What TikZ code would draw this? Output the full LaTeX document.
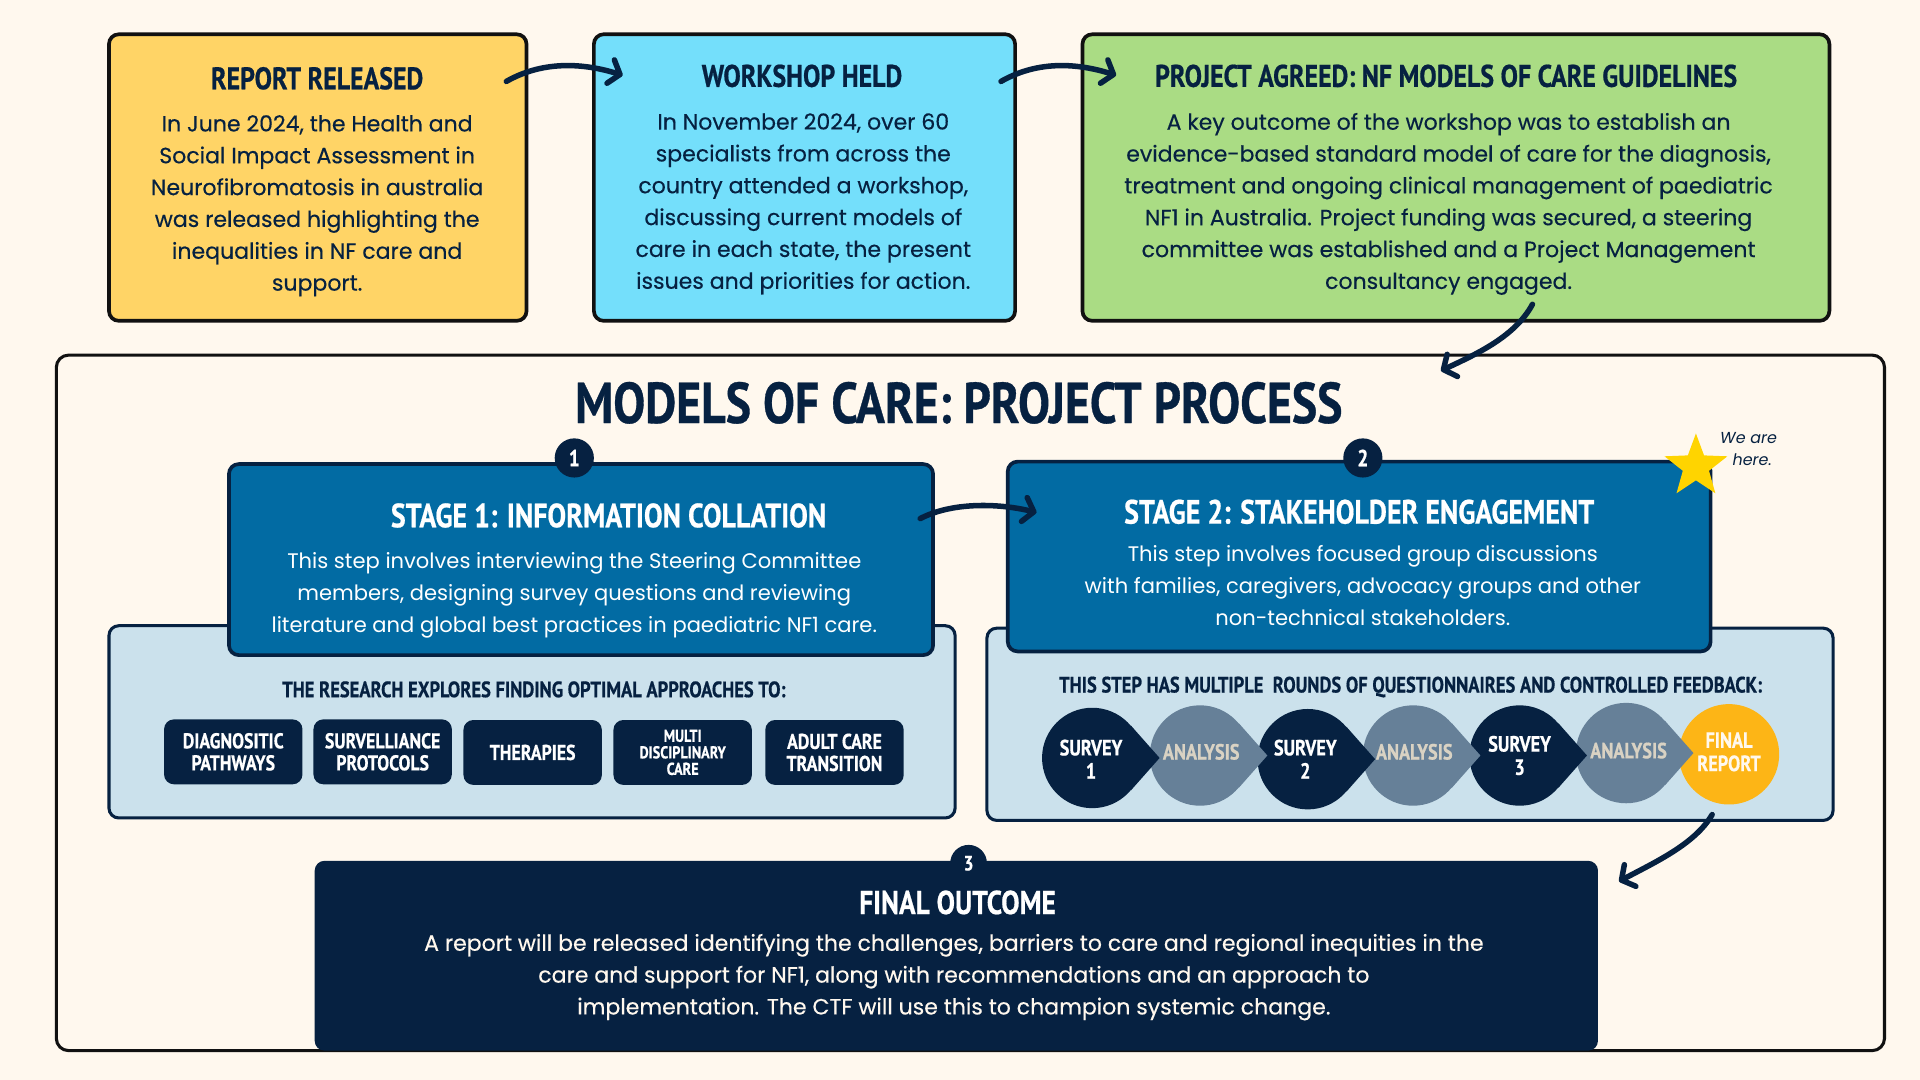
\documentclass[tikz,border=0pt]{standalone}
\usepackage{fontspec}
\setmainfont{Poppins}
\newfontfamily\hf[FakeStretch=0.83, BoldFeatures={FakeBold=0.6}]{PT Sans}
\newfontfamily\bodyf[FakeBold=0.35]{Poppins}
\usetikzlibrary{arrows.meta,shapes.geometric,calc}
\definecolor{bg}{RGB}{255,248,238}
\definecolor{navy}{RGB}{6,33,65}
\definecolor{boxline}{RGB}{17,17,17}
\definecolor{yel}{RGB}{255,212,102}
\definecolor{cya}{RGB}{116,223,251}
\definecolor{gre}{RGB}{170,220,132}
\definecolor{stblue}{RGB}{2,107,163}
\definecolor{ltblue}{RGB}{203,225,236}
\definecolor{anal}{RGB}{102,128,152}
\definecolor{analtxt}{RGB}{217,210,195}
\definecolor{orng}{RGB}{253,181,22}
\definecolor{stary}{RGB}{255,212,0}
\definecolor{cream}{RGB}{255,248,238}
\tikzset{
  topbox/.style={draw=boxline, line width=3pt, rounded corners=8pt, inner sep=0pt},
  stbox/.style={draw=navy, line width=3pt, fill=stblue, rounded corners=8pt, inner sep=0pt},
  ltbox/.style={draw=navy, line width=2.5pt, fill=ltblue, rounded corners=8pt, inner sep=0pt},
  head/.style={font=\hf\bfseries\fontsize{25.5}{28}\selectfont, text=navy, inner sep=0pt},
  sthead/.style={font=\hf\bfseries\fontsize{27.5}{30}\selectfont, text=white, inner sep=0pt},
  body/.style={font=\bodyf\fontsize{18}{26}\selectfont, text=navy, align=center, inner sep=0pt},
  stbody/.style={font=\fontsize{17.2}{26}\selectfont, text=white, align=center, inner sep=0pt},
  subhead/.style={font=\hf\bfseries\fontsize{18.2}{20}\selectfont, text=navy, inner sep=0pt},
  pill/.style={fill=navy, rounded corners=8pt, minimum width=113pt, minimum height=53pt, inner sep=0pt,
     text=white, align=center, font=\hf\bfseries\fontsize{17.5}{18}\selectfont},
  numc/.style={circle, fill=navy, minimum size=32pt, inner sep=0pt, text=white, font=\hf\bfseries\fontsize{19}{20}\selectfont},
  drop/.style={circle, minimum size=82pt, inner sep=0pt},
  droptxt/.style={align=center, inner sep=0pt, font=\hf\bfseries\fontsize{18}{19}\selectfont},
  conn/.style={draw=navy, line width=4.5pt, line cap=round, -{Straight Barb[length=8pt,width=20pt,round]}},
}
\newcommand\droptip[2]{\fill[#2] (#1.40) -- ($(#1.center)+(55,0)$) -- (#1.-40) -- cycle;}
\begin{document}
\begin{tikzpicture}[x=1pt,y=-1pt]
\fill[bg] (0,0) rectangle (1568,882);
\useasboundingbox (0,0) rectangle (1568,882);

% top boxes
\node[topbox, fill=yel, minimum width=341pt, minimum height=234pt] (rep) at (259.5,145) {};
\node[topbox, fill=cya, minimum width=344pt, minimum height=234pt] (work) at (657,145) {};
\node[topbox, fill=gre, minimum width=610pt, minimum height=234pt] (proj) at (1189,145) {};

\node[head] (repH) at (259,64) {REPORT RELEASED};
\node[head] (workH) at (655,62) {WORKSHOP HELD};
\node[head] (projH) at (1181,62) {PROJECT AGREED: NF MODELS OF CARE GUIDELINES};

\node[body] (repT) at (259,168) {In June 2024, the Health and\\Social Impact Assessment in\\Neurofibromatosis in australia\\was released highlighting the\\inequalities in NF care and\\support.};
\node[body] (workT) at (656,166.5) {In November 2024, over 60\\specialists from across the\\country attended a workshop,\\discussing current models of\\care in each state, the present\\issues and priorities for action.};
\node[body] (projT) at (1183,166.5) {A key outcome of the workshop was to establish an\\evidence-based standard model of care for the diagnosis,\\treatment and ongoing clinical management of paediatric\\NF1 in Australia. Project funding was secured, a steering\\committee was established and a Project Management\\consultancy engaged.};

% container
\node[draw=boxline, line width=2.5pt, fill=bg, rounded corners=10pt, minimum width=1493pt, minimum height=568pt, inner sep=0pt] (cont) at (792.5,574) {};
\node[font=\hf\bfseries\fontsize{47}{50}\selectfont, text=navy, inner sep=0pt] (title) at (783,329) {MODELS OF CARE: PROJECT PROCESS};

% stage 1
\node[ltbox, minimum width=691pt, minimum height=157pt] (s1l) at (434.5,589.5) {};
\node[stbox, minimum width=575pt, minimum height=156pt] (s1) at (474.5,457) {};
\node[numc] (n1) at (469,374) {1};
\node[sthead] (s1H) at (497,421) {STAGE 1: INFORMATION COLLATION};
\node[stbody] (s1T) at (469,486) {This step involves interviewing the Steering Committee\\members, designing survey questions and reviewing\\literature and global best practices in paediatric NF1 care.};
\node[subhead] (s1S) at (436,563) {THE RESEARCH EXPLORES FINDING OPTIMAL APPROACHES TO:};
\node[pill] (p1) at (190.5,614) {DIAGNOSITIC\\PATHWAYS};
\node[pill] (p2) at (312.5,614) {SURVELLIANCE\\PROTOCOLS};
\node[pill] (p3) at (435,614.5) {THERAPIES};
\node[pill, font=\hf\bfseries\fontsize{14}{13.5}\selectfont] (p4) at (557.5,614.5) {MULTI\\DISCIPLINARY\\CARE};
\node[pill] (p5) at (681.5,614.5) {ADULT CARE\\TRANSITION};

% stage 2
\node[ltbox, minimum width=691pt, minimum height=157pt] (s2l) at (1151.5,591.5) {};
\node[stbox, minimum width=574pt, minimum height=155pt] (s2) at (1110,454.5) {};
\node[numc] (n2) at (1113,374) {2};
\node[sthead] (s2H) at (1110,418) {STAGE 2: STAKEHOLDER ENGAGEMENT};
\node[stbody] (s2T) at (1113,478) {This step involves focused group discussions\\with families, caregivers, advocacy groups and other\\non-technical stakeholders.};
\node[star, star points=5, star point ratio=2.4, fill=stary, minimum size=54pt, inner sep=0pt] (star) at (1385,381) {};
\node[font=\itshape\fontsize{13}{18}\selectfont, text=navy, align=center, inner sep=0pt] (here) at (1428,367) {We are\\\hspace*{6pt}here.};
\node[subhead] (s2S) at (1152,561) {THIS STEP HAS MULTIPLE\ \ ROUNDS OF QUESTIONNAIRES AND CONTROLLED FEEDBACK:};

% drops (right to left, shapes first)
\node[drop, fill=orng] (fr) at (1412,616) {};
\node[drop, fill=anal] (a3) at (1328,615) {};
\droptip{a3}{anal}
\node[drop, fill=navy] (v3) at (1241,617) {};
\droptip{v3}{navy}
\node[drop, fill=anal] (a2) at (1154,617) {};
\droptip{a2}{anal}
\node[drop, fill=navy] (v2) at (1068,620) {};
\droptip{v2}{navy}
\node[drop, fill=anal] (a1) at (980,617) {};
\droptip{a1}{anal}
\node[drop, fill=navy] (v1) at (892,619) {};
\droptip{v1}{navy}
% drop labels
\node[droptxt, text=cream] (frt) at (1412,614) {FINAL\\REPORT};
\node[droptxt, text=analtxt] (a3t) at (1330,613) {ANALYSIS};
\node[droptxt, text=white] (v3t) at (1241,617) {SURVEY\\3};
\node[droptxt, text=analtxt] (a2t) at (1155,614) {ANALYSIS};
\node[droptxt, text=white] (v2t) at (1066,620) {SURVEY\\2};
\node[droptxt, text=analtxt] (a1t) at (981,614) {ANALYSIS};
\node[droptxt, text=white] (v1t) at (891,620) {SURVEY\\1};

% final outcome
\node[fill=navy, rounded corners=8pt, minimum width=1048pt, minimum height=155pt, inner sep=0pt] (fin) at (781,780.5) {};
\node[numc, minimum size=30pt, font=\hf\bfseries\fontsize{17}{18}\selectfont] (n3) at (791,705) {3};
\node[sthead, font=\hf\bfseries\fontsize{27}{28}\selectfont] (finH) at (782,737) {FINAL OUTCOME};
\node[body, text=cream] (finT) at (779,798) {A report will be released identifying the challenges, barriers to care and regional inequities in the\\care and support for NF1, along with recommendations and an approach to\\implementation. The CTF will use this to champion systemic change.};

% connectors
\coordinate (c1a) at ($(rep.north east)+(-18,40)$);
\coordinate (c1b) at ($(work.north west)+(25,35)$);
\coordinate (c2a) at ($(work.north east)+(-13,40)$);
\coordinate (c2b) at ($(proj.north west)+(29,35)$);
\coordinate (c3a) at ($(proj.south west)+(369,-15)$);
\coordinate (c3b) at ($(cont.north west)+(1132,14)$);
\coordinate (c4a) at ($(s1.north east)+(-12,46)$);
\coordinate (c4b) at ($(s2.north west)+(25,43)$);
\coordinate (c5a) at ($(s2l.south east)+(-100,-6)$);
\coordinate (c5b) at ($(fin.north east)+(17,17)$);
\draw[conn] (c1a) .. controls ($(c1a)+(28,-16)$) and ($(c1b)+(-35,-11)$) .. (c1b);
\draw[conn] (c2a) .. controls ($(c2a)+(28,-16)$) and ($(c2b)+(-35,-11)$) .. (c2b);
\draw[conn] (c3a) .. controls ($(c3a)+(-14,26)$) and ($(c3b)+(30,-14)$) .. (c3b);
\draw[conn] (c4a) .. controls ($(c4a)+(25,-13)$) and ($(c4b)+(-33,-8)$) .. (c4b);
\draw[conn] (c5a) .. controls ($(c5a)+(-14,24)$) and ($(c5b)+(30,-16)$) .. (c5b);
\end{tikzpicture}
\end{document}
